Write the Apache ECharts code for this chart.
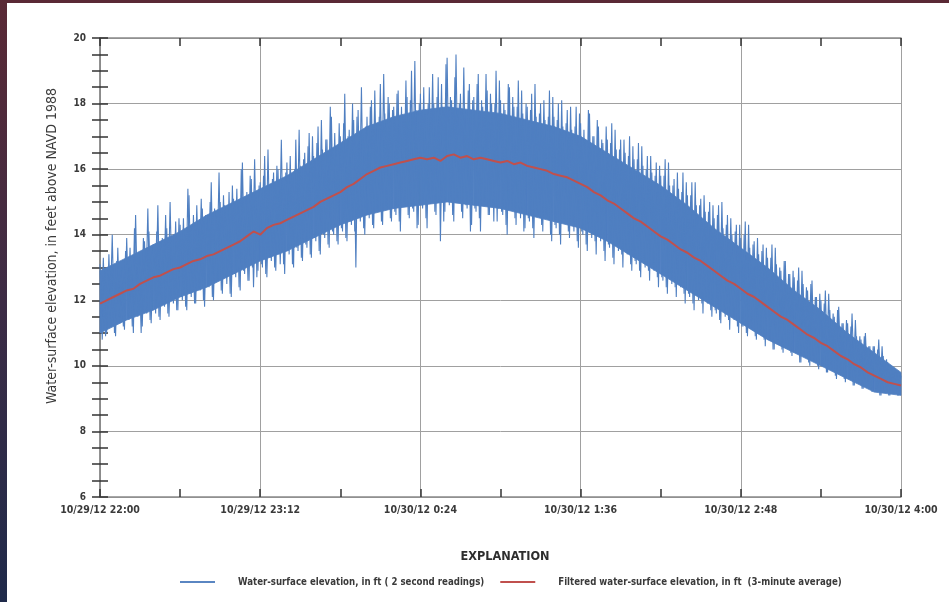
<!DOCTYPE html>
<html>
<head>
<meta charset="utf-8">
<script src="https://cdn.jsdelivr.net/npm/echarts@6/dist/echarts.min.js"></script>
<style>
html,body{margin:0;padding:0;background:#fff;}
#chart{width:949px;height:602px;}
</style>
</head>
<body>
<div id="chart"></div>
<script>
// ---- data ----
const xTickLabels = ['10/29/12 22:00','10/29/12 23:12','10/30/12 0:24','10/30/12 1:36','10/30/12 2:48','10/30/12 4:00'];
const xTickStepMinutes = 72;
const yMin = 6, yMax = 20, yStep = 2;

// 2-second readings, sampled as alternating high/low extremes each minute from 22:00
const rawReadings = [
13.1,10.8,12.9,11.0,13.4,11.2,12.8,10.9,13.6,11.3,13.0,11.1,
13.9,11.4,13.2,11.0,14.6,11.5,13.4,11.2,13.8,11.6,14.1,11.3,
13.7,11.6,14.9,11.4,13.9,11.8,14.2,11.5,13.6,11.9,14.4,11.7,
14.3,12.0,14.0,11.7,15.2,12.1,14.6,11.9,14.2,12.3,14.8,11.8,
14.5,12.4,15.6,12.0,14.7,12.6,15.0,12.2,14.9,12.5,15.3,12.1,
15.1,12.7,14.9,12.3,16.2,12.8,15.3,12.6,15.7,12.4,15.2,12.9,
15.6,13.0,16.4,12.7,15.4,13.2,15.9,12.9,16.0,13.1,15.5,12.8,
16.2,13.4,15.8,13.0,16.9,13.5,16.1,13.2,16.5,13.6,17.1,13.3,
16.4,13.8,17.3,13.4,16.6,13.9,16.9,13.6,17.6,14.0,16.7,13.7,
17.0,14.1,18.3,13.8,17.2,14.3,17.5,13.0,17.8,14.4,17.1,14.0,
17.6,14.5,18.1,14.2,17.4,14.7,18.6,14.3,17.7,14.8,18.0,14.4,
17.9,14.6,18.4,14.1,17.6,14.9,18.2,14.5,19.0,14.7,17.8,14.3,
18.3,14.8,17.7,14.2,18.5,15.0,18.0,14.6,18.8,13.8,17.9,14.7,
19.4,14.9,18.1,14.4,19.5,15.0,18.3,14.5,17.8,14.8,18.6,14.3,
18.2,14.7,18.9,14.1,17.9,14.9,18.4,14.6,18.0,14.4,19.0,14.8,
18.1,14.6,17.8,14.0,18.5,14.8,17.9,14.3,18.7,14.5,17.7,14.2,
17.9,14.4,18.3,13.9,17.6,14.6,18.0,14.1,17.5,14.5,18.4,13.8,
17.6,14.2,18.0,13.7,17.3,14.4,17.8,13.9,17.2,14.1,17.9,13.6,
17.4,14.0,16.9,13.5,17.7,13.9,17.0,13.4,17.3,13.8,16.8,13.2,
16.9,13.6,17.4,13.1,16.6,13.5,16.9,13.0,16.5,13.4,17.0,12.9,
16.3,13.1,16.8,12.7,16.1,13.0,16.4,12.6,15.9,12.9,16.2,12.4,
15.8,12.6,16.3,12.2,15.5,12.5,15.7,12.1,15.4,12.4,15.9,11.9,
15.2,12.1,15.6,11.7,14.9,12.0,15.1,11.6,14.7,11.9,15.0,11.5,
14.5,11.6,14.9,11.3,14.2,11.5,14.6,11.1,14.0,11.4,14.3,11.0,
13.9,11.2,14.4,10.9,13.6,11.1,13.8,10.8,13.4,11.0,13.7,10.6,
13.3,10.8,13.7,10.5,13.1,10.7,12.9,10.4,13.2,10.6,12.8,10.3,
12.7,10.4,13.0,10.1,12.5,10.3,12.3,10.0,12.6,10.2,12.1,9.9,
12.0,10.0,12.3,9.8,11.7,9.9,11.5,9.6,11.8,9.8,11.3,9.5,
11.3,9.6,11.6,9.4,10.9,9.5,10.8,9.3,11.0,9.4,10.6,9.2,
10.6,9.3,10.8,9.1,10.3,9.2,10.1,9.1,9.9,9.2,9.8,9.1,
9.7
];
// second set of readings, half a minute later each (low/high alternating)
const rawReadingsB = [
11.1,13.3,10.9,12.8,11.4,14.0,11.0,13.2,11.5,12.9,11.2,13.5,
11.5,13.6,11.2,14.2,11.6,13.3,11.0,13.9,11.7,14.8,11.4,13.5,
11.8,14.1,11.5,13.8,11.9,14.6,11.6,15.0,12.0,14.0,11.7,14.5,
12.1,14.5,11.8,15.4,12.2,14.3,11.9,14.9,12.4,15.1,12.0,14.6,
12.5,15.0,12.1,14.8,12.6,15.9,12.3,15.2,12.7,14.9,12.2,15.5,
12.8,15.4,12.4,16.0,12.9,15.1,12.6,15.8,13.0,16.3,12.7,15.5,
13.1,15.8,12.8,16.6,13.3,15.7,13.0,16.1,13.4,16.9,13.1,15.9,
13.5,16.4,13.1,16.0,13.6,17.2,13.3,16.3,13.7,16.7,13.4,17.0,
13.9,16.8,13.5,17.5,14.0,16.9,13.7,17.9,14.1,17.1,13.8,17.4,
14.2,17.4,13.9,17.0,14.4,18.0,14.1,17.6,14.5,18.5,14.2,17.3,
14.6,17.9,14.3,18.4,14.8,17.6,14.4,18.9,14.9,18.2,14.5,17.8,
14.7,18.3,14.4,17.9,15.0,18.7,14.6,18.1,14.8,19.3,14.2,18.0,
14.9,18.5,14.5,18.0,15.1,18.9,14.7,18.2,15.0,18.6,14.4,19.2,
15.0,18.2,14.6,18.8,15.1,18.0,14.7,19.1,14.9,18.4,14.1,18.1,
14.8,18.6,14.5,18.1,15.0,18.9,14.6,18.3,14.9,18.0,14.4,18.7,
14.7,18.0,14.3,18.6,14.9,18.2,14.5,17.9,14.8,18.4,14.1,18.0,
14.5,17.8,14.2,18.6,14.7,17.7,14.3,18.1,14.6,17.6,14.0,18.2,
14.3,17.5,14.0,18.1,14.5,17.4,14.1,17.9,14.4,17.3,13.8,17.7,
14.1,17.2,13.7,17.8,14.2,17.0,13.8,17.5,14.0,16.9,13.5,17.3,
13.7,16.8,13.3,17.2,13.8,16.6,13.4,16.9,13.6,16.4,13.1,16.7,
13.2,16.3,12.9,16.7,13.3,16.0,12.9,16.4,13.1,15.8,12.7,16.1,
12.7,15.8,12.4,16.2,12.8,15.5,12.4,15.9,12.6,15.3,12.2,15.6,
12.2,15.2,11.9,15.6,12.3,14.9,11.9,15.2,12.1,14.7,11.7,14.9,
11.7,14.6,11.4,15.0,11.8,14.3,11.4,14.5,11.6,14.1,11.2,14.3,
11.2,14.0,11.0,14.3,11.3,13.7,10.9,13.9,11.1,13.5,10.8,13.6,
10.8,13.3,10.5,13.6,10.8,13.0,10.5,13.2,10.7,12.8,10.4,12.9,
10.4,12.6,10.1,12.9,10.4,12.4,10.1,12.5,10.3,12.1,10.0,12.2,
10.0,11.9,9.8,12.2,10.0,11.6,9.7,11.7,9.9,11.3,9.6,11.4,
9.6,11.2,9.4,11.4,9.6,10.9,9.3,10.9,9.5,10.6,9.3,10.6,
9.3,10.5,9.1,10.6,9.2,10.2,9.1,10.0,9.2,9.8,9.1,9.7
];
const rawStepMinutes = 1;

// dense part of the 2-second readings: upper / lower edge of the solid band, every 12 minutes
const bandHigh = [12.9,13.3,13.7,14.1,14.6,15.0,15.4,15.8,16.3,16.8,17.3,17.6,17.8,17.9,17.8,17.7,17.5,17.3,17.0,16.5,16.0,15.5,14.9,14.2,13.6,13.0,12.3,11.7,11.0,10.4,9.8];
const bandLow  = [11.0,11.4,11.7,12.1,12.4,12.8,13.2,13.5,13.9,14.3,14.6,14.8,14.9,15.0,14.9,14.8,14.6,14.4,14.2,13.8,13.3,12.8,12.3,11.8,11.3,10.8,10.4,10.0,9.6,9.2,9.1];
const bandStepMinutes = 12;

// filtered (3-minute average) values from 22:00
const filteredValues = [
11.9,12.0,12.1,12.2,12.3,12.35,12.5,12.6,12.7,12.75,
12.85,12.95,13.0,13.1,13.2,13.25,13.35,13.4,13.5,13.6,
13.7,13.8,13.95,14.1,14.0,14.2,14.3,14.35,14.45,14.55,
14.65,14.75,14.85,15.0,15.1,15.2,15.3,15.45,15.55,15.7,
15.85,15.95,16.05,16.1,16.15,16.2,16.25,16.3,16.35,16.3,
16.35,16.25,16.4,16.45,16.35,16.4,16.3,16.35,16.3,16.25,
16.2,16.25,16.15,16.2,16.1,16.05,16.0,15.95,15.85,15.8,
15.75,15.65,15.55,15.45,15.3,15.2,15.05,14.95,14.8,14.65,
14.5,14.4,14.25,14.1,13.95,13.85,13.7,13.55,13.45,13.3,
13.2,13.05,12.9,12.75,12.6,12.5,12.35,12.2,12.1,11.95,
11.8,11.65,11.5,11.4,11.25,11.1,10.95,10.85,10.7,10.6,
10.45,10.3,10.2,10.05,9.95,9.8,9.7,9.6,9.5,9.45,
9.4
];
const filteredStepMinutes = 3;

const seriesNames = [
  'Water-surface elevation, in ft ( 2 second readings)',
  'Filtered water-surface elevation, in ft  (3-minute average)'
];
const yAxisTitle = 'Water-surface elevation, in feet above NAVD 1988';
const legendTitle = 'EXPLANATION';

// ---- build ----
const BLUE = '#4f7fc1';
const RED = '#c0504d';
const rawData = rawReadings.map((v, i) => [i * rawStepMinutes, v]);
const rawDataB = rawReadingsB.map((v, i) => [i * rawStepMinutes + rawStepMinutes / 2, v]);
const filtData = filteredValues.map((v, i) => [i * filteredStepMinutes, v]);
const bandSegs = [];
for (let i = 0; i < bandHigh.length - 1; i++) {
  bandSegs.push([i * bandStepMinutes, bandLow[i], bandHigh[i],
                 (i + 1) * bandStepMinutes, bandLow[i + 1], bandHigh[i + 1]]);
}
const xMax = (xTickLabels.length - 1) * xTickStepMinutes;

const FONT = "'Liberation Sans Narrow','DejaVu Sans Condensed','Roboto Condensed',sans-serif";
const TXT = '#3a3a3a';
const AXIS = '#8a8a8a';
const GRID = '#a0a0a0';
const TICK = '#333';

const chart = echarts.init(document.getElementById('chart'), null, {renderer: 'canvas'});

const tickCommon = {show: true, inside: true, length: 8, lineStyle: {color: TICK, width: 1.5}};
const minorCommon = (n) => ({show: true, splitNumber: n, length: 8, lineStyle: {color: TICK, width: 1.5}});

chart.setOption({
  animation: false,
  backgroundColor: '#ffffff',
  graphic: [
    {type: 'rect', left: 0, top: 0, shape: {width: 949, height: 3}, style: {fill: '#5a2935'}, z: 100},
    {type: 'rect', left: 0, top: 0, shape: {width: 7, height: 602},
     style: {fill: new echarts.graphic.LinearGradient(0, 0, 0, 1, [
       {offset: 0, color: '#5a2935'}, {offset: 0.5, color: '#3d2c45'}, {offset: 1, color: '#1f2a4a'}])}, z: 100},
    {type: 'text', x: 52, y: 246, rotation: Math.PI / 2, z: 100,
     style: {text: yAxisTitle, align: 'center', verticalAlign: 'middle',
       font: "14px 'Liberation Sans Narrow','DejaVu Sans Condensed',sans-serif", fill: TXT}}
  ],
  title: {
    text: legendTitle,
    left: 500, top: 545, textAlign: 'center',
    textStyle: {fontFamily: FONT, fontSize: 12.6, fontWeight: 'bold', color: '#2e2e2e'}
  },
  legend: {
    left: 175, top: 572,
    itemWidth: 35, itemHeight: 2, itemGap: 16,
    icon: 'rect',
    data: [
      {name: seriesNames[0], itemStyle: {color: '#5a86c2'}},
      {name: seriesNames[1], itemStyle: {color: RED}}
    ],
    textStyle: {fontFamily: FONT, fontSize: 9.6, fontWeight: 'bold', color: TXT, padding: [0, 0, 0, 18]}
  },
  grid: {left: 100, right: 48, top: 38, bottom: 105, containLabel: false},
  xAxis: [
    {
      type: 'value', min: 0, max: xMax, interval: xTickStepMinutes, position: 'bottom',
      axisLine: {show: true, lineStyle: {color: AXIS, width: 1.5}},
      axisTick: tickCommon,
      minorTick: minorCommon(2),
      splitLine: {show: true, lineStyle: {color: GRID, width: 1}},
      axisLabel: {
        show: true, margin: 8, hideOverlap: false, showMinLabel: true, showMaxLabel: true,
        fontFamily: FONT, fontSize: 10.5, fontWeight: 'bold', color: TXT,
        formatter: (v) => xTickLabels[Math.round(v / xTickStepMinutes)]
      }
    },
    {
      type: 'value', min: 0, max: xMax, interval: xTickStepMinutes, position: 'top',
      axisLine: {show: true, lineStyle: {color: AXIS, width: 1.5}},
      axisTick: tickCommon,
      minorTick: minorCommon(2),
      splitLine: {show: false},
      axisLabel: {show: false}
    }
  ],
  yAxis: [
    {
      type: 'value', min: yMin, max: yMax, interval: yStep, position: 'left',
      axisLine: {show: true, lineStyle: {color: AXIS, width: 1.5}},
      axisTick: tickCommon,
      minorTick: minorCommon(4),
      splitLine: {show: true, lineStyle: {color: GRID, width: 1}},
      axisLabel: {show: true, margin: 14, fontFamily: FONT, fontSize: 10, fontWeight: 'bold', color: TXT,
        showMinLabel: true, showMaxLabel: true}
    },
    {
      type: 'value', min: yMin, max: yMax, interval: yStep, position: 'right',
      axisLine: {show: true, lineStyle: {color: AXIS, width: 1.5}},
      axisTick: tickCommon,
      minorTick: minorCommon(4),
      splitLine: {show: false},
      axisLabel: {show: false}
    }
  ],
  series: [
    {
      name: 'band', type: 'custom', data: bandSegs, silent: true, z: 1,
      encode: {x: [0, 3], y: [1, 2, 4, 5]},
      renderItem: function (params, api) {
        const p1 = api.coord([api.value(0), api.value(2)]);
        const p2 = api.coord([api.value(3), api.value(5)]);
        const p3 = api.coord([api.value(3), api.value(4)]);
        const p4 = api.coord([api.value(0), api.value(1)]);
        return {
          type: 'polygon',
          shape: {points: [p1, p2, p3, p4]},
          style: {fill: BLUE, stroke: BLUE, lineWidth: 0.8}
        };
      }
    },
    {
      name: seriesNames[0], type: 'line', data: rawData,
      showSymbol: false, symbol: 'none', silent: true,
      lineStyle: {color: BLUE, width: 1.1},
      itemStyle: {color: '#5a86c2'}, z: 2
    },
    {
      name: 'readingsB', type: 'line', data: rawDataB,
      showSymbol: false, symbol: 'none', silent: true,
      lineStyle: {color: BLUE, width: 1.1},
      itemStyle: {color: BLUE}, z: 2
    },
    {
      name: seriesNames[1], type: 'line', data: filtData,
      showSymbol: false, symbol: 'none', silent: true,
      lineStyle: {color: RED, width: 2},
      itemStyle: {color: RED}, z: 3
    }
  ]
});
</script>
</body>
</html>
